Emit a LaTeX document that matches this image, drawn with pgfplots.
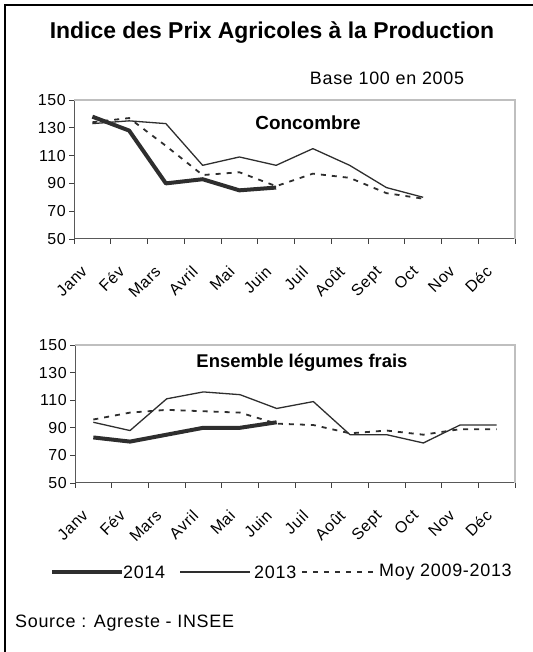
\documentclass[border=0pt]{standalone}
\usepackage{fontspec}
\setmainfont{Liberation Sans}
\newfontfamily\wsp[LetterSpace=4]{Liberation Sans}
\usepackage{pgfplots}
\pgfplotsset{compat=1.18}
\definecolor{ln}{HTML}{2E2E2E}
\tikzset{
 s14/.style={ln, line width=4bp, line join=round},
 s13/.style={ln, line width=1.3bp, line join=round},
 smoy/.style={ln, line width=1.8bp, dash pattern=on 5bp off 6bp},
}
\pgfplotsset{
 mystyle/.style={
  width=441bp, height=139bp, scale only axis,
  xmin=0.5, xmax=12.5, ymin=50, ymax=150,
  xtick={1,...,12},
  xticklabels={Janv,Fév,Mars,Avril,Mai,Juin,Juil,Août,Sept,Oct,Nov,Déc},
  major x tick style={draw=none},
  minor xtick={0.5,1.5,...,12.5},
  ytick={50,70,...,150},
  axis x line*=bottom, axis y line*=left,
  axis line style={-, draw=black!65, line width=1bp},
  tick align=outside, major tick length=5bp, minor tick length=5bp,
  tick style={black!75, line width=0.8bp},
  minor tick style={black!75, line width=0.8bp},
  /pgf/number format/assume math mode=true,
  yticklabel style={font=\wsp\fontsize{16}{16}\selectfont, inner sep=1bp, xshift=-2bp},
  xticklabel style={xshift=-12bp, yshift=-19bp, rotate=45, anchor=north east, font=\wsp\fontsize{16}{16}\selectfont, inner sep=1bp},
  after end axis/.code={\draw[black!25, line width=1.2bp] (rel axis cs:0,1) -- (rel axis cs:1,1) -- (rel axis cs:1,0);},
 },
}
\begin{document}
\begin{tikzpicture}[x=1bp,y=1bp]
\useasboundingbox (0,0) rectangle (533,652);
\draw[line width=1.6bp] (5,0) -- (5,647) -- (540,647);
\node[font=\bfseries\fontsize{23}{23}\selectfont] at (272,619) {Indice des Prix Agricoles à la Production};
\node[font=\wsp\fontsize{18}{18}\selectfont] at (387,574) {Base 100 en 2005};

\begin{axis}[mystyle, at={(74bp,413bp)}, anchor=south west]
\addplot[smoy] coordinates {(1,134)(2,137)(3,117)(4,96)(5,98)(6,88)(7,97)(8,94)(9,83)(10,79)};
\addplot[s13] coordinates {(1,133)(2,135)(3,133)(4,103)(5,109)(6,103)(7,115)(8,103)(9,87)(10,80)};
\addplot[s14] coordinates {(1,138)(2,128)(3,90)(4,93)(5,85)(6,87)};
\end{axis}
\node[font=\bfseries\fontsize{19}{19}\selectfont] at (308,529) {Concombre};

\begin{axis}[mystyle, at={(75bp,169bp)}, anchor=south west, width=440bp, height=138bp]
\addplot[smoy] coordinates {(1,96)(2,101)(3,103)(4,102)(5,101)(6,93)(7,92)(8,86)(9,88)(10,85)(11,89)(12,89)};
\addplot[s13] coordinates {(1,94)(2,88)(3,111)(4,116)(5,114)(6,104)(7,109)(8,85)(9,85)(10,79)(11,92)(12,92)};
\addplot[s14] coordinates {(1,83)(2,80)(3,85)(4,90)(5,90)(6,94)};
\end{axis}
\node[font=\bfseries\fontsize{18.5}{18.5}\selectfont] at (302,289) {Ensemble légumes frais};

% legend
\draw[s14] (52,80) -- (122,80);
\node[anchor=west, inner sep=1bp, font=\wsp\fontsize{18}{18}\selectfont] at (122,80) {2014};
\draw[s13] (180,80) -- (250,80);
\node[anchor=west, inner sep=1bp, font=\wsp\fontsize{18}{18}\selectfont] at (253,80) {2013};
\draw[smoy] (302,80) -- (377,80);
\node[anchor=west, inner sep=1bp, font=\wsp\fontsize{18}{18}\selectfont] at (378,80) {Moy 2009-2013};
\node[anchor=west, inner sep=0pt, font=\wsp\fontsize{18}{18}\selectfont] at (15,29) {Source : Agreste - INSEE};
\end{tikzpicture}
\end{document}
